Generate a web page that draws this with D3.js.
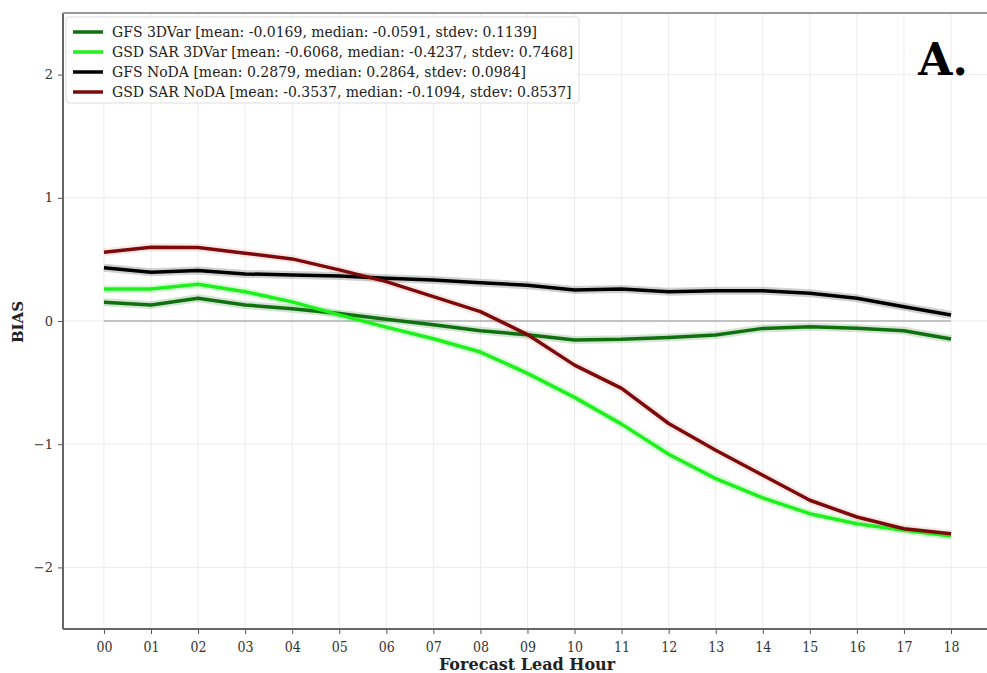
<!DOCTYPE html>
<html>
<head>
<meta charset="utf-8">
<script src="https://cdn.jsdelivr.net/npm/d3@7"></script>
<style>
  body { margin: 0; background: #fff; }
</style>
</head>
<body>
<div id="bias_chart"></div>
<script>
// ===== DATA =====
var hours = ["00","01","02","03","04","05","06","07","08","09","10","11","12","13","14","15","16","17","18"];

var gfs3dvar    = [0.152, 0.13, 0.185, 0.13, 0.10, 0.06, 0.015, -0.03, -0.08, -0.112, -0.155, -0.149, -0.133, -0.114, -0.06, -0.046, -0.058, -0.079, -0.146];
var gsdsar3dvar = [0.26, 0.26, 0.298, 0.238, 0.155, 0.05, -0.05, -0.144, -0.252, -0.425, -0.62, -0.837, -1.081, -1.279, -1.436, -1.564, -1.645, -1.699, -1.745];
var gfsnoda     = [0.433, 0.396, 0.409, 0.382, 0.374, 0.366, 0.347, 0.333, 0.311, 0.29, 0.252, 0.26, 0.238, 0.246, 0.246, 0.225, 0.184, 0.116, 0.049];
var gsdsarnoda  = [0.558, 0.599, 0.596, 0.55, 0.504, 0.415, 0.32, 0.198, 0.076, -0.11, -0.358, -0.547, -0.832, -1.049, -1.252, -1.455, -1.591, -1.686, -1.726];

var seriesNames = [
  "GFS 3DVar [mean: -0.0169, median: -0.0591, stdev: 0.1139]",
  "GSD SAR 3DVar [mean: -0.6068, median: -0.4237, stdev: 0.7468]",
  "GFS NoDA [mean: 0.2879, median: 0.2864, stdev: 0.0984]",
  "GSD SAR NoDA [mean: -0.3537, median: -0.1094, stdev: 0.8537]"
];
var seriesColors = ["#107010", "#1ef01e", "#000000", "#7c0a0a"];
var yTicks = [-2, -1, 0, 1, 2];

function bias_chart()
{
  var w = 987;
  var h = 673;
  var serif = "'DejaVu Serif', 'Liberation Serif', serif";

  var svg = d3.select("#bias_chart")
              .append("svg")
              .attr("width", w)
              .attr("height", h);

  // plot area (right spine falls just off the picture, as in the original)
  var left = 63, top = 13, bottom = 629;

  var x = d3.scaleLinear()
            .domain([-0.87, 18.9])
            .range([left, left + (18.9 + 0.87) * 47.06]);

  var y = d3.scaleLinear()
            .domain([-2.5, 2.5])
            .range([bottom, top]);

  var allSeries = [gfs3dvar, gsdsar3dvar, gfsnoda, gsdsarnoda];

  // faint grid
  svg.append("g")
     .selectAll("line")
     .data(hours)
     .enter()
     .append("line")
     .attr("x1", function(d, i) { return x(i); })
     .attr("x2", function(d, i) { return x(i); })
     .attr("y1", top)
     .attr("y2", bottom)
     .attr("stroke", "#ececec")
     .attr("stroke-width", 1);

  svg.append("g")
     .selectAll("line")
     .data(yTicks)
     .enter()
     .append("line")
     .attr("x1", left)
     .attr("x2", w)
     .attr("y1", function(d) { return y(d); })
     .attr("y2", function(d) { return y(d); })
     .attr("stroke", "#ececec")
     .attr("stroke-width", 1);

  // zero reference line
  svg.append("line")
     .attr("x1", x(0))
     .attr("x2", x(hours.length - 1))
     .attr("y1", y(0))
     .attr("y2", y(0))
     .attr("stroke", "#b0b0b0")
     .attr("stroke-width", 1.5);

  // axes
  var xAxis = d3.axisBottom(x)
                .tickValues(d3.range(hours.length))
                .tickFormat(function(d) { return hours[d]; })
                .tickSize(5)
                .tickSizeOuter(0);

  var yAxis = d3.axisLeft(y)
                .tickValues(yTicks)
                .tickFormat(function(d) { return d < 0 ? "\u2212" + Math.abs(d) : d; })
                .tickSize(5)
                .tickSizeOuter(0);

  var gx = svg.append("g")
              .attr("transform", "translate(0," + bottom + ")")
              .call(xAxis);
  gx.select(".domain").remove();
  gx.selectAll("line").attr("stroke", "#555");
  gx.selectAll("text")
    .attr("font-family", "'DejaVu Serif Condensed', 'Liberation Serif', serif")
    .attr("font-size", "14px")
    .attr("fill", "#333")
    .attr("dy", "1.05em");

  var gy = svg.append("g")
              .attr("transform", "translate(" + left + ",0)")
              .call(yAxis);
  gy.select(".domain").remove();
  gy.selectAll("line").attr("stroke", "#555");
  gy.selectAll("text")
    .attr("font-family", serif)
    .attr("font-size", "13px")
    .attr("fill", "#333")
    .attr("x", -10);

  // frame (left, top, bottom)
  svg.append("line").attr("x1", left).attr("x2", left).attr("y1", top).attr("y2", bottom)
     .attr("stroke", "#666").attr("stroke-width", 2);
  svg.append("line").attr("x1", left).attr("x2", w).attr("y1", top).attr("y2", top)
     .attr("stroke", "#999").attr("stroke-width", 2);
  svg.append("line").attr("x1", left).attr("x2", w).attr("y1", bottom).attr("y2", bottom)
     .attr("stroke", "#666").attr("stroke-width", 2);

  var line = d3.line()
               .x(function(d, i) { return x(i); })
               .y(function(d) { return y(d); });

  // soft halo under each line
  svg.append("g")
     .selectAll("path")
     .data(allSeries)
     .enter()
     .append("path")
     .attr("d", line)
     .attr("fill", "none")
     .attr("stroke", function(d, i) { return i == 3 ? "#e08080" : seriesColors[i]; })
     .attr("stroke-opacity", 0.18)
     .attr("stroke-width", 8)
     .attr("stroke-linejoin", "round");

  svg.append("g")
     .selectAll("path")
     .data(allSeries)
     .enter()
     .append("path")
     .attr("d", line)
     .attr("fill", "none")
     .attr("stroke", function(d, i) { return seriesColors[i]; })
     .attr("stroke-width", 3.5)
     .attr("stroke-linejoin", "round");

  // legend
  var legend = svg.append("g");
  legend.append("rect")
        .attr("x", 66)
        .attr("y", 17)
        .attr("width", 513)
        .attr("height", 86)
        .attr("rx", 3)
        .attr("fill", "#fff")
        .attr("fill-opacity", 0.85)
        .attr("stroke", "#ddd");

  var items = legend.selectAll("g.item")
                    .data(seriesNames)
                    .enter()
                    .append("g")
                    .attr("class", "item")
                    .attr("transform", function(d, i) { return "translate(0," + (32 + i * 20) + ")"; });

  items.append("line")
       .attr("x1", 73)
       .attr("x2", 103)
       .attr("stroke", function(d, i) { return seriesColors[i]; })
       .attr("stroke-width", 3.5);

  items.append("text")
       .text(function(d) { return d; })
       .attr("x", 112)
       .attr("dy", "0.35em")
       .attr("font-family", serif)
       .attr("font-size", "14px")
       .attr("fill", "#222");

  // panel letter
  svg.append("text")
     .text("A.")
     .attr("x", 943)
     .attr("y", 75)
     .attr("text-anchor", "middle")
     .attr("font-family", serif)
     .attr("font-weight", "bold")
     .attr("font-size", "44px")
     .attr("fill", "#000");

  // axis titles
  svg.append("text")
     .text("Forecast Lead Hour")
     .attr("x", 527)
     .attr("y", 670)
     .attr("text-anchor", "middle")
     .attr("font-family", serif)
     .attr("font-weight", "bold")
     .attr("font-size", "16px")
     .attr("fill", "#222");

  svg.append("text")
     .text("BIAS")
     .attr("transform", "translate(23,322) rotate(-90)")
     .attr("text-anchor", "middle")
     .attr("font-family", serif)
     .attr("font-weight", "bold")
     .attr("font-size", "15px")
     .attr("fill", "#222");
}

window.onload = bias_chart;
</script>
</body>
</html>
